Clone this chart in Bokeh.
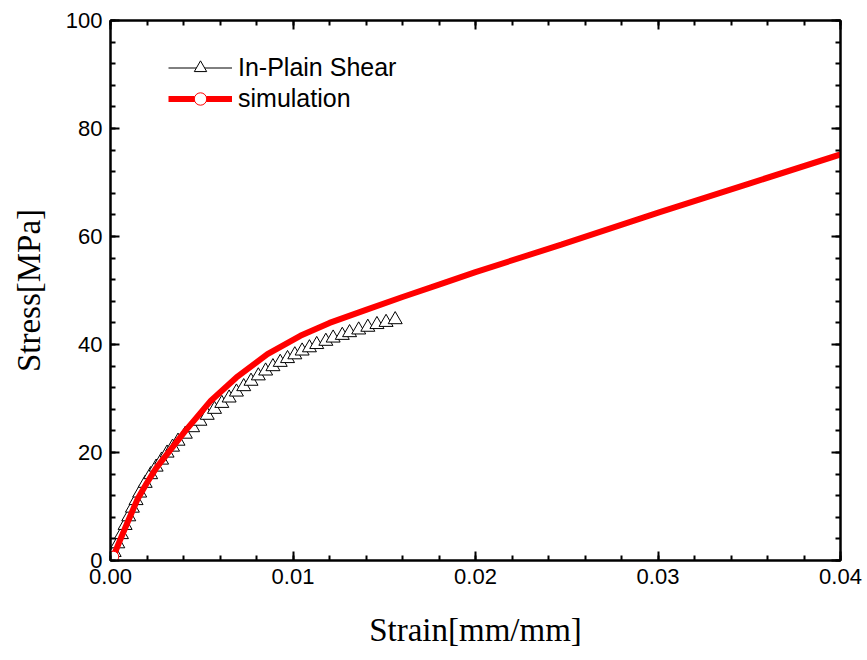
from bokeh.plotting import figure
from bokeh.models import (Range1d, LinearAxis, FixedTicker, PrintfTickFormatter,
                          Legend, LegendItem)
from bokeh.embed import file_html
from bokeh.resources import INLINE

# In-plane shear test (measured)
exp_strain = [0.0002, 0.0004, 0.0006, 0.0008, 0.0010, 0.0012, 0.0014, 0.0016,
              0.0019, 0.0022, 0.0025, 0.0028, 0.0031, 0.0034, 0.0037, 0.0041,
              0.0045, 0.0049, 0.0053, 0.0057, 0.0061, 0.0065, 0.0069, 0.0073,
              0.0077, 0.0081, 0.0085, 0.0089, 0.0093, 0.0097, 0.0101, 0.0105,
              0.0109, 0.0113, 0.0118, 0.0122, 0.0127, 0.0131, 0.0136, 0.0141,
              0.0146, 0.0151, 0.0156]
exp_stress = [1.5, 3.1, 4.8, 6.5, 8.1, 9.7, 11.1, 12.5,
              14.3, 15.9, 17.3, 18.6, 19.9, 21.0, 22.1, 23.4,
              24.6, 25.8, 26.9, 28.0, 29.1, 30.1, 31.2, 32.2,
              33.2, 34.2, 35.1, 35.9, 36.7, 37.4, 38.1, 38.8,
              39.4, 40.0, 40.6, 41.2, 41.7, 42.2, 42.7, 43.2,
              43.7, 44.1, 44.6]

# Simulation result
sim_strain = [0.00015, 0.0005, 0.0010, 0.0015, 0.0020, 0.0025, 0.0031, 0.0041,
              0.0055, 0.0069, 0.0086, 0.0104, 0.0120, 0.0140, 0.0160, 0.0180,
              0.0200, 0.0247, 0.0301, 0.0350, 0.0400]
sim_stress = [0.7, 3.6, 7.6, 11.5, 14.4, 17.1, 19.7, 24.0,
              29.6, 33.9, 38.2, 41.6, 44.0, 46.4, 48.8, 51.1,
              53.4, 58.5, 64.5, 69.8, 75.2]

x_ticks = [0.0, 0.01, 0.02, 0.03, 0.04]
y_ticks = [0, 20, 40, 60, 80, 100]
x_minor = [i * 0.002 for i in range(21)]
y_minor = list(range(0, 101, 4))

p = figure(width=867, height=660, output_backend="svg", toolbar_location=None,
           x_range=Range1d(0, 0.04), y_range=Range1d(0, 100),
           min_border_left=110, min_border_right=27,
           min_border_top=20, min_border_bottom=100,
           background_fill_color="white", border_fill_color="white")
p.grid.visible = False
p.outline_line_color = "black"
p.outline_line_width = 2

bottom_axis = p.below[0]
left_axis = p.left[0]

label_font = "Liberation Sans"
title_font = "Liberation Serif"

bottom_axis.ticker = FixedTicker(ticks=x_ticks, minor_ticks=x_minor)
bottom_axis.formatter = PrintfTickFormatter(format="%.2f")
left_axis.ticker = FixedTicker(ticks=y_ticks, minor_ticks=y_minor)
bottom_axis.axis_label = "Strain[mm/mm]"
left_axis.axis_label = "Stress[MPa]"

# Tick-only axes on the top and right edges
top_axis = LinearAxis(ticker=FixedTicker(ticks=x_ticks, minor_ticks=x_minor),
                      major_label_overrides={t: "" for t in x_ticks},
                      major_label_standoff=0)
right_axis = LinearAxis(ticker=FixedTicker(ticks=y_ticks, minor_ticks=y_minor),
                        major_label_overrides={t: "" for t in y_ticks},
                        major_label_standoff=0)
p.add_layout(top_axis, "above")
p.add_layout(right_axis, "right")

for ax in [bottom_axis, left_axis, top_axis, right_axis]:
    ax.axis_line_width = 2
    ax.axis_line_color = "black"
    ax.major_tick_in = 9
    ax.major_tick_out = 0
    ax.minor_tick_in = 5
    ax.minor_tick_out = 0
    ax.major_tick_line_width = 2
    ax.minor_tick_line_width = 2
    ax.major_tick_line_color = "black"
    ax.minor_tick_line_color = "black"

for ax in [bottom_axis, left_axis]:
    ax.major_label_text_font = label_font
    ax.major_label_text_font_size = "22px"
    ax.major_label_text_color = "black"
    ax.major_label_standoff = 8
    ax.axis_label_text_font = title_font
    ax.axis_label_text_font_size = "33px"
    ax.axis_label_text_font_style = "normal"
    ax.axis_label_text_color = "black"
bottom_axis.axis_label_standoff = 25
left_axis.axis_label_standoff = 16

# Measured data: thin black line with open triangles
exp_line = p.line(exp_strain, exp_stress, line_color="black", line_width=1)
exp_pts = p.scatter(exp_strain, exp_stress, marker="triangle", size=14,
                    fill_color="white", line_color="black", line_width=1)

# Simulation: thick red line, open circle at the first point
sim_line = p.line(sim_strain, sim_stress, line_color="red", line_width=6)
sim_pt = p.scatter(sim_strain[:1], sim_stress[:1], marker="circle", size=11,
                   fill_color="white", line_color="red", line_width=1)

legend = Legend(items=[
    LegendItem(label="In-Plain Shear", renderers=[exp_line, exp_pts]),
    LegendItem(label="simulation", renderers=[sim_line, sim_pt]),
], location=(58, 446), border_line_color=None, background_fill_alpha=0,
   padding=0, margin=0, spacing=0, glyph_width=64, glyph_height=31,
   label_height=31, label_standoff=6,
   label_text_font=label_font, label_text_font_size="25px",
   label_text_color="black")
p.add_layout(legend, "center")

open("out.html", "w").write(file_html(p, INLINE))
